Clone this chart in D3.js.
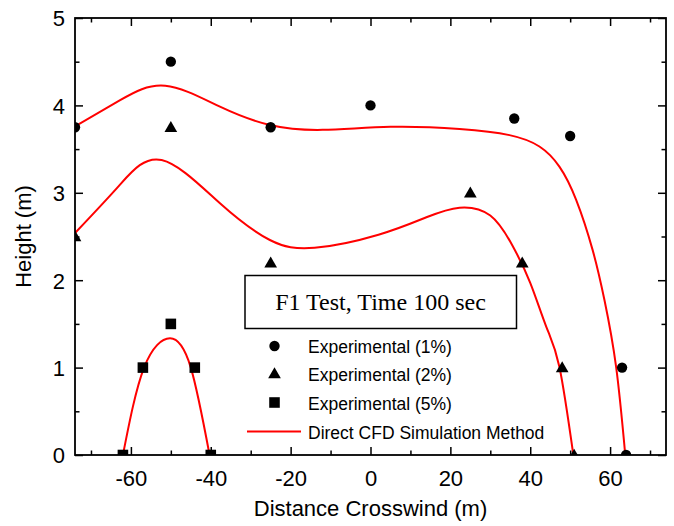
<!DOCTYPE html>
<html>
<head>
<meta charset="utf-8">
<script src="https://cdn.jsdelivr.net/npm/d3@7/dist/d3.min.js"></script>
<style>
  html, body { margin: 0; padding: 0; background: #fff; }
  svg { display: block; }
  text { font-family: "Liberation Sans", Arial, sans-serif; fill: #000; }
</style>
</head>
<body>
<svg id="chart" width="674" height="526"></svg>
<script>
// Experimental plume heights (m) against crosswind distance (m)
const exp1X = [-74, -50, -25, 0, 36, 50, 63, 64];
const exp1Y = [3.75, 4.5, 3.75, 4.0, 3.85, 3.65, 1.0, 0];

const exp2X = [-74, -50, -25, 25, 38, 48, 51];
const exp2Y = [2.5, 3.75, 2.2, 3.0, 2.2, 1.0, 0];

const exp5X = [-62, -57, -50, -44, -40];
const exp5Y = [0, 1.0, 1.5, 1.0, 0];

// Direct CFD simulation contours
const cfd1X = [-74, -62.7, -51.4, -37.7, -25.2, -12, 5, 22.3, 34.8, 42.3, 47.3, 51.5, 55.6, 58.6, 61.5, 63.8];
const cfd1Y = [3.76, 4.06, 4.225, 3.985, 3.776, 3.72, 3.755, 3.73, 3.66, 3.53, 3.30, 2.92, 2.35, 1.77, 1.01, 0];

const cfd2X = [-74, -63, -52.3, -37.7, -25.2, -14, 2, 14, 22.3, 30, 35.5, 40, 44, 47.3, 50.8];
const cfd2Y = [2.54, 3.08, 3.375, 2.88, 2.46, 2.37, 2.52, 2.72, 2.83, 2.74, 2.40, 1.97, 1.47, 1.01, 0];

const cfd5X = [-62, -56.7, -50.2, -45, -40.3];
const cfd5Y = [0, 1.0, 1.335, 1.0, 0];

const xTicks = [-60, -40, -20, 0, 20, 40, 60];
const xMinor = [-70, -50, -30, -10, 10, 30, 50, 70];
const yTicks = [0, 1, 2, 3, 4, 5];
const yMinor = [0.5, 1.5, 2.5, 3.5, 4.5];

const legendTitle = "F1 Test, Time 100 sec";
const legendLabels = ["Experimental (1%)", "Experimental (2%)", "Experimental (5%)", "Direct CFD Simulation Method"];

const svg = d3.select("#chart");
const L = 75, R = 666, T = 18, B = 455;

const x = d3.scaleLinear().domain([-74, 74]).range([L, R]);
const y = d3.scaleLinear().domain([0, 5]).range([B, T]);

const zip = (xs, ys) => xs.map((v, i) => [v, ys[i]]);

svg.append("defs").append("clipPath").attr("id", "plotClip")
  .append("rect").attr("x", L).attr("y", T).attr("width", R - L).attr("height", B - T);

const plot = svg.append("g").attr("clip-path", "url(#plotClip)");

// simulation curves
const line = d3.line()
  .x(d => x(d[0])).y(d => y(d[1]))
  .curve(d3.curveNatural);

[[cfd1X, cfd1Y], [cfd2X, cfd2Y], [cfd5X, cfd5Y]].forEach(([xs, ys]) => {
  plot.append("path")
    .datum(zip(xs, ys))
    .attr("d", line)
    .attr("fill", "none")
    .attr("stroke", "#ff0000")
    .attr("stroke-width", 2);
});

// markers
const circleSym = d3.symbol().type(d3.symbolCircle).size(84);
const triSym = d3.symbol().type(d3.symbolTriangle).size(70);
const sqSym = d3.symbol().type(d3.symbolSquare).size(112);

function drawMarkers(g, xs, ys, sym, dy) {
  g.selectAll(null).data(zip(xs, ys)).enter().append("path")
    .attr("d", sym)
    .attr("transform", d => `translate(${x(d[0])},${y(d[1]) + (dy || 0)})`)
    .attr("fill", "#000");
}
drawMarkers(plot, exp1X, exp1Y, circleSym);
drawMarkers(plot, exp2X, exp2Y, triSym, 1);
drawMarkers(plot, exp5X, exp5Y, sqSym);

// axes with inward ticks on all four sides
const axisG = svg.append("g");
function addAxis(axis, tx, ty) {
  const g = axisG.append("g").attr("transform", `translate(${tx},${ty})`).call(axis);
  g.select(".domain").remove();
  g.selectAll("line").attr("stroke", "#000").attr("stroke-width", 1.5);
  return g;
}
const fmt = d => String(d);

const bottom = addAxis(d3.axisBottom(x).tickValues(xTicks).tickSize(-8).tickFormat(fmt), 0, B);
bottom.selectAll("text").attr("font-size", 22).attr("dy", null).attr("y", 31);
addAxis(d3.axisBottom(x).tickValues(xMinor).tickSize(-4.5).tickFormat(""), 0, B);
addAxis(d3.axisTop(x).tickValues(xTicks).tickSize(-8).tickFormat(""), 0, T);
addAxis(d3.axisTop(x).tickValues(xMinor).tickSize(-4.5).tickFormat(""), 0, T);

const left = addAxis(d3.axisLeft(y).tickValues(yTicks).tickSize(-8).tickFormat(fmt), L, 0);
left.selectAll("text").attr("font-size", 22).attr("x", -10).attr("dy", "0.36em");
addAxis(d3.axisLeft(y).tickValues(yMinor).tickSize(-4.5).tickFormat(""), L, 0);
addAxis(d3.axisRight(y).tickValues(yTicks).tickSize(-8).tickFormat(""), R, 0);
addAxis(d3.axisRight(y).tickValues(yMinor).tickSize(-4.5).tickFormat(""), R, 0);
axisG.selectAll("text").attr("fill", "#000").attr("font-family", "Liberation Sans, Arial, sans-serif");

// frame
svg.append("rect")
  .attr("x", L).attr("y", T).attr("width", R - L).attr("height", B - T)
  .attr("fill", "none").attr("stroke", "#000").attr("stroke-width", 1.8);

// axis titles
svg.append("text")
  .attr("x", (L + R) / 2).attr("y", 516)
  .attr("text-anchor", "middle").attr("font-size", 22)
  .text("Distance Crosswind (m)");

svg.append("text")
  .attr("transform", `translate(31,${(T + B) / 2}) rotate(-90)`)
  .attr("text-anchor", "middle").attr("font-size", 22)
  .text("Height (m)");

// legend
const lg = svg.append("g");
lg.append("rect")
  .attr("x", 245).attr("y", 275.5).attr("width", 271.5).attr("height", 53)
  .attr("fill", "#fff").attr("stroke", "#000").attr("stroke-width", 1.5);
lg.append("text")
  .attr("x", 380.5).attr("y", 309.5)
  .attr("text-anchor", "middle")
  .style("font-family", "'Liberation Serif', 'Times New Roman', serif")
  .attr("font-size", 24)
  .text(legendTitle);

const rowY = [346, 373.5, 402.5, 431.5];
const symX = 274.5, textX = 308;
lg.append("path").attr("d", circleSym).attr("transform", `translate(${symX},${rowY[0]})`);
lg.append("path").attr("d", triSym).attr("transform", `translate(${symX},${rowY[1] + 1})`);
lg.append("path").attr("d", sqSym).attr("transform", `translate(${symX},${rowY[2]})`);
lg.append("line")
  .attr("x1", 247).attr("x2", 301).attr("y1", rowY[3]).attr("y2", rowY[3])
  .attr("stroke", "#ff0000").attr("stroke-width", 2);

lg.selectAll(".lbl").data(legendLabels).enter().append("text")
  .attr("class", "lbl")
  .attr("x", textX)
  .attr("y", (d, i) => rowY[i] + 7)
  .attr("font-size", 17.5)
  .text(d => d);
</script>
</body>
</html>
